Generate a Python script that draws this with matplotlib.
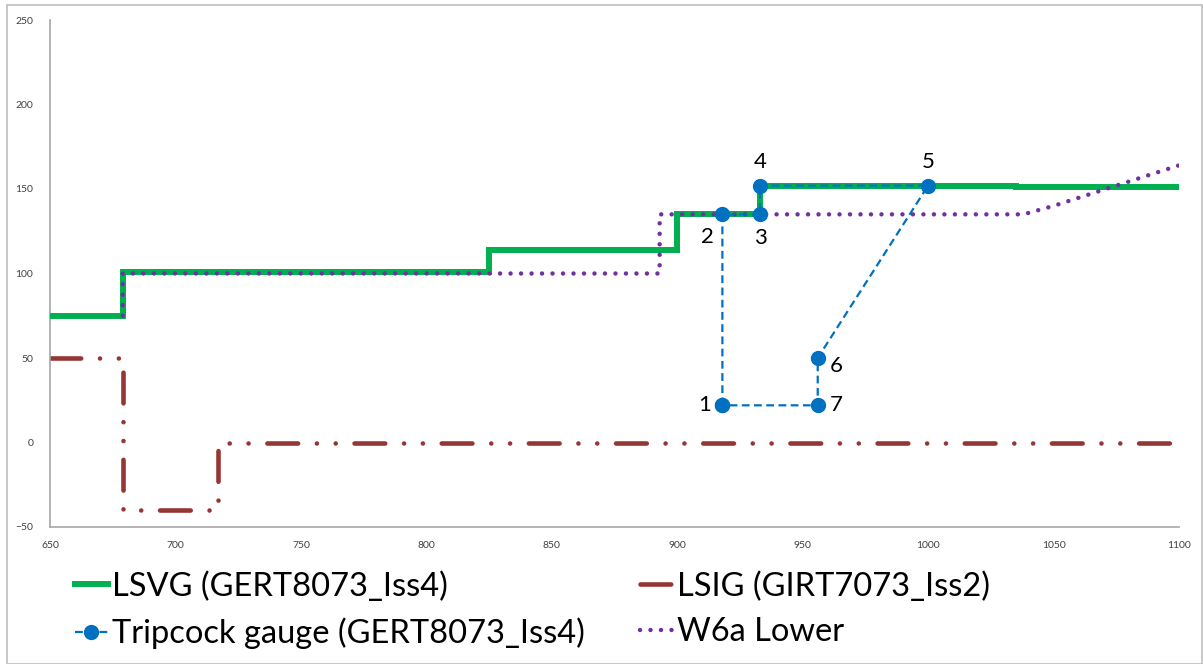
import matplotlib
matplotlib.use("Agg")
import matplotlib.pyplot as plt
from matplotlib.patches import Rectangle

plt.rcParams['font.family'] = ['Lato', 'DejaVu Sans']

# LSVG (GERT8073_Iss4) - step line
lsvg_x = [650, 679, 679, 825, 825, 900, 900, 933, 933, 1035, 1035, 1100]
lsvg_y = [75, 75, 101, 101, 114, 114, 135, 135, 152, 152, 151, 151]

# LSIG (GIRT7073_Iss2)
lsig_x = [650, 679, 679, 717, 717, 1100]
lsig_y = [50, 50, -40, -40, 0, 0]

# Tripcock gauge (GERT8073_Iss4)
trip_x = [918, 918, 933, 933, 1000, 956, 956, 918]
trip_y = [22, 135, 135, 152, 152, 50, 22, 22]
trip_labels = ["1", "2", "3", "4", "5", "6", "7"]
label_offsets = [(-13, 0), (-11, -16), (0, -17), (0, 17), (0, 17), (13, -6), (13, 0)]

# W6a Lower
w6a_x = [679, 679, 893, 893, 1038, 1050, 1075, 1100]
w6a_y = [75, 100, 100, 135, 135, 140, 152, 164]

fig = plt.figure(figsize=(12.03, 6.64), dpi=100)
ax = fig.add_axes([50/1203, 1 - 527/664, (1179-50)/1203, (527-20)/664])

green = '#00B050'
red = '#943634'
blue = '#0070C0'
purple = '#7030A0'

l1, = ax.plot(lsvg_x, lsvg_y, color=green, lw=4.3, solid_joinstyle='miter',
              label='LSVG (GERT8073_Iss4)', zorder=3)
l2, = ax.plot(lsig_x, lsig_y, color=red, lw=3.3, dash_capstyle='round',
              dashes=(6.7, 4.1, 0.01, 4.1, 0.01, 4.1), label='LSIG (GIRT7073_Iss2)', zorder=2)
l4, = ax.plot(w6a_x, w6a_y, color=purple, lw=3.2, dash_capstyle='round',
              dashes=(0.01, 2.35), label='W6a Lower', zorder=4)
l3, = ax.plot(trip_x, trip_y, color=blue, lw=1.6, dashes=(3.5, 2.0),
              marker='o', markersize=10, markerfacecolor=blue, markeredgecolor=blue,
              label='Tripcock gauge (GERT8073_Iss4)', zorder=5)

for i, lab in enumerate(trip_labels):
    ax.annotate(lab, (trip_x[i], trip_y[i]), xytext=label_offsets[i],
                textcoords='offset points', ha='center', va='center',
                fontsize=16, color='black', zorder=6)

ax.set_xlim(650, 1100)
ax.set_ylim(-50, 250)
ax.set_xticks(range(650, 1101, 50))
ax.set_yticks(range(-50, 251, 50))
ax.tick_params(length=0, labelsize=7.5, colors='#404040')
ax.tick_params(axis='y', pad=12)
ax.tick_params(axis='x', pad=10)
for s in ['top', 'right']:
    ax.spines[s].set_visible(False)
for s in ['left', 'bottom']:
    ax.spines[s].set_color('#A6A6A6')
    ax.spines[s].set_linewidth(1.2)

leg = fig.legend(handles=[l1, l3, l2, l4], ncol=2, loc='upper left',
                 bbox_to_anchor=(62/1203, 1 - 558/664), frameon=False,
                 fontsize=23.5, handlelength=1.0, handletextpad=0.12,
                 columnspacing=1.7, labelspacing=0.48, borderaxespad=0)

fig.patches.append(Rectangle((7/1203, 0), 1195/1203, 1 - 5/664, transform=fig.transFigure,
                             fill=False, edgecolor='#BFBFBF', lw=1.2))

fig.savefig('out.png', dpi=100)
